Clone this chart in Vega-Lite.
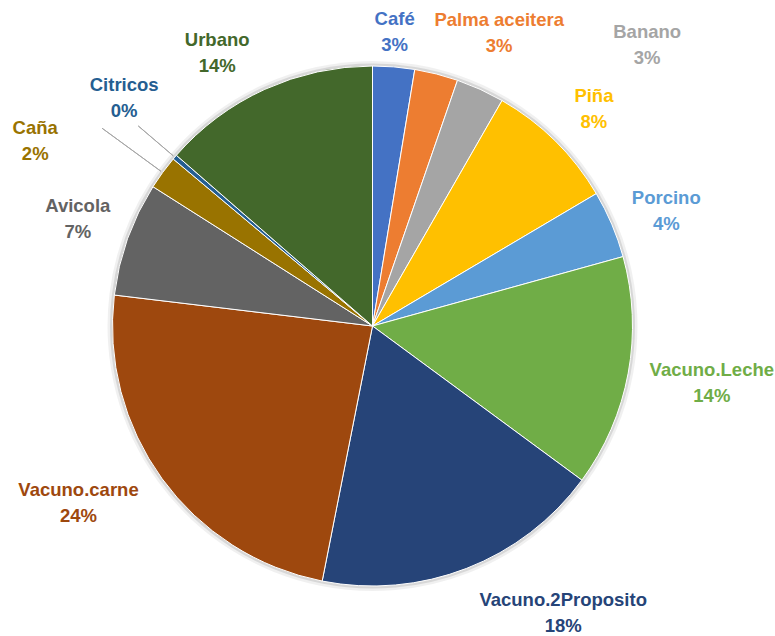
{
  "$schema": "https://vega.github.io/schema/vega-lite/v6.json",
  "width": 745,
  "height": 622,
  "autosize": "none",
  "padding": {"left": 0, "top": 15, "right": 30, "bottom": 0},
  "background": "white",
  "config": {"view": {"stroke": null}},
  "data": {
    "values": [
      {"i": 1, "cat": "Café", "pct": 0.026},
      {"i": 2, "cat": "Palma aceitera", "pct": 0.027},
      {"i": 3, "cat": "Banano", "pct": 0.030},
      {"i": 4, "cat": "Piña", "pct": 0.082},
      {"i": 5, "cat": "Porcino", "pct": 0.042},
      {"i": 6, "cat": "Vacuno.Leche", "pct": 0.144},
      {"i": 7, "cat": "Vacuno.2Proposito", "pct": 0.180},
      {"i": 8, "cat": "Vacuno.carne", "pct": 0.238},
      {"i": 9, "cat": "Avicola", "pct": 0.071},
      {"i": 10, "cat": "Caña", "pct": 0.021},
      {"i": 11, "cat": "Citricos", "pct": 0.003},
      {"i": 12, "cat": "Urbano", "pct": 0.136}
    ]
  },
  "transform": [
    {"stack": "pct", "groupby": [], "sort": [{"field": "i", "order": "ascending"}], "as": ["s0", "s1"]},
    {"calculate": "(datum.s0 + datum.s1) / 2", "as": "mid"},
    {"calculate": "datum.cat + '\\n' + format(datum.pct, '.0%')", "as": "label"}
  ],
  "layer": [
    {
      "mark": {"type": "arc", "outerRadius": 265, "fill": "#000000", "opacity": 0.06},
      "encoding": {
        "theta": {"field": "s0", "type": "quantitative", "scale": {"domain": [0, 1]}},
        "theta2": {"field": "s1"}
      }
    },
    {
      "mark": {"type": "arc", "outerRadius": 262.5, "fill": "#000000", "opacity": 0.1},
      "encoding": {
        "theta": {"field": "s0", "type": "quantitative", "scale": {"domain": [0, 1]}},
        "theta2": {"field": "s1"}
      }
    },
    {
      "mark": {"type": "arc", "outerRadius": 260, "stroke": "white", "strokeWidth": 1},
      "encoding": {
        "theta": {"field": "s0", "type": "quantitative", "scale": {"domain": [0, 1]}},
        "theta2": {"field": "s1"},
        "color": {
          "field": "cat", "type": "nominal", "legend": null,
          "scale": {
            "domain": ["Café", "Palma aceitera", "Banano", "Piña", "Porcino", "Vacuno.Leche", "Vacuno.2Proposito", "Vacuno.carne", "Avicola", "Caña", "Citricos", "Urbano"],
            "range": ["#4472C4", "#ED7D31", "#A5A5A5", "#FFC000", "#5B9BD5", "#70AD47", "#264478", "#9E480E", "#636363", "#997300", "#255E91", "#43682B"]
          }
        }
      }
    },
    {
      "transform": [{"filter": "datum.cat === 'Citricos'"}],
      "mark": {"type": "arc", "innerRadius": 262, "outerRadius": 308, "fill": null, "stroke": "#A6A6A6", "strokeWidth": 1},
      "encoding": {
        "theta": {"field": "mid", "type": "quantitative", "scale": {"domain": [0, 1]}},
        "theta2": {"field": "mid"}
      }
    },
    {
      "transform": [{"filter": "datum.cat === 'Caña'"}],
      "mark": {"type": "arc", "innerRadius": 262, "outerRadius": 335, "fill": null, "stroke": "#A6A6A6", "strokeWidth": 1},
      "encoding": {
        "theta": {"field": "mid", "type": "quantitative", "scale": {"domain": [0, 1]}},
        "theta2": {"field": "mid"}
      }
    },
    {
      "encoding": {
        "theta": {"field": "mid", "type": "quantitative", "scale": {"domain": [0, 1]}},
        "text": {"field": "label"},
        "color": {"field": "cat", "type": "nominal", "legend": null}
      },
      "layer": [
        {"transform": [{"filter": "datum.cat === 'Café'"}], "mark": {"type": "text", "radius": 296, "dx": -2, "dy": -12, "font": "Liberation Sans", "fontWeight": "bold", "fontSize": 18.5, "lineBreak": "\n", "lineHeight": 26, "baseline": "middle", "align": "center"}},
        {"transform": [{"filter": "datum.cat === 'Palma aceitera'"}], "mark": {"type": "text", "radius": 296, "dx": 54, "dy": -19, "font": "Liberation Sans", "fontWeight": "bold", "fontSize": 18.5, "lineBreak": "\n", "lineHeight": 26, "baseline": "middle", "align": "center"}},
        {"transform": [{"filter": "datum.cat === 'Banano'"}], "mark": {"type": "text", "radius": 296, "dx": 152, "dy": -25, "font": "Liberation Sans", "fontWeight": "bold", "fontSize": 18.5, "lineBreak": "\n", "lineHeight": 26, "baseline": "middle", "align": "center"}},
        {"transform": [{"filter": "datum.cat === 'Piña'"}], "mark": {"type": "text", "radius": 308, "dx": 5, "dy": -11, "font": "Liberation Sans", "fontWeight": "bold", "fontSize": 18.5, "lineBreak": "\n", "lineHeight": 26, "baseline": "middle", "align": "center"}},
        {"transform": [{"filter": "datum.cat === 'Porcino'"}], "mark": {"type": "text", "radius": 316, "dx": 3, "dy": -4, "font": "Liberation Sans", "fontWeight": "bold", "fontSize": 18.5, "lineBreak": "\n", "lineHeight": 26, "baseline": "middle", "align": "center"}},
        {"transform": [{"filter": "datum.cat === 'Vacuno.Leche'"}], "mark": {"type": "text", "radius": 343, "dx": 2, "dy": -18, "font": "Liberation Sans", "fontWeight": "bold", "fontSize": 18.5, "lineBreak": "\n", "lineHeight": 26, "baseline": "middle", "align": "center"}},
        {"transform": [{"filter": "datum.cat === 'Vacuno.2Proposito'"}], "mark": {"type": "text", "radius": 300, "dx": 82, "dy": -6, "font": "Liberation Sans", "fontWeight": "bold", "fontSize": 18.5, "lineBreak": "\n", "lineHeight": 26, "baseline": "middle", "align": "center"}},
        {"transform": [{"filter": "datum.cat === 'Vacuno.carne'"}], "mark": {"type": "text", "radius": 330, "dx": -27, "dy": -30, "font": "Liberation Sans", "fontWeight": "bold", "fontSize": 18.5, "lineBreak": "\n", "lineHeight": 26, "baseline": "middle", "align": "center"}},
        {"transform": [{"filter": "datum.cat === 'Avicola'"}], "mark": {"type": "text", "radius": 315, "dx": 2, "dy": -14, "font": "Liberation Sans", "fontWeight": "bold", "fontSize": 18.5, "lineBreak": "\n", "lineHeight": 26, "baseline": "middle", "align": "center"}},
        {"transform": [{"filter": "datum.cat === 'Caña'"}], "mark": {"type": "text", "radius": 315, "dx": -83, "dy": -12, "font": "Liberation Sans", "fontWeight": "bold", "fontSize": 18.5, "lineBreak": "\n", "lineHeight": 26, "baseline": "middle", "align": "center"}},
        {"transform": [{"filter": "datum.cat === 'Citricos'"}], "mark": {"type": "text", "radius": 345, "dx": 14, "dy": -17, "font": "Liberation Sans", "fontWeight": "bold", "fontSize": 18.5, "lineBreak": "\n", "lineHeight": 26, "baseline": "middle", "align": "center"}},
        {"transform": [{"filter": "datum.cat === 'Urbano'"}], "mark": {"type": "text", "radius": 300, "dx": -31, "dy": -13, "font": "Liberation Sans", "fontWeight": "bold", "fontSize": 18.5, "lineBreak": "\n", "lineHeight": 26, "baseline": "middle", "align": "center"}}
      ]
    }
  ]
}
